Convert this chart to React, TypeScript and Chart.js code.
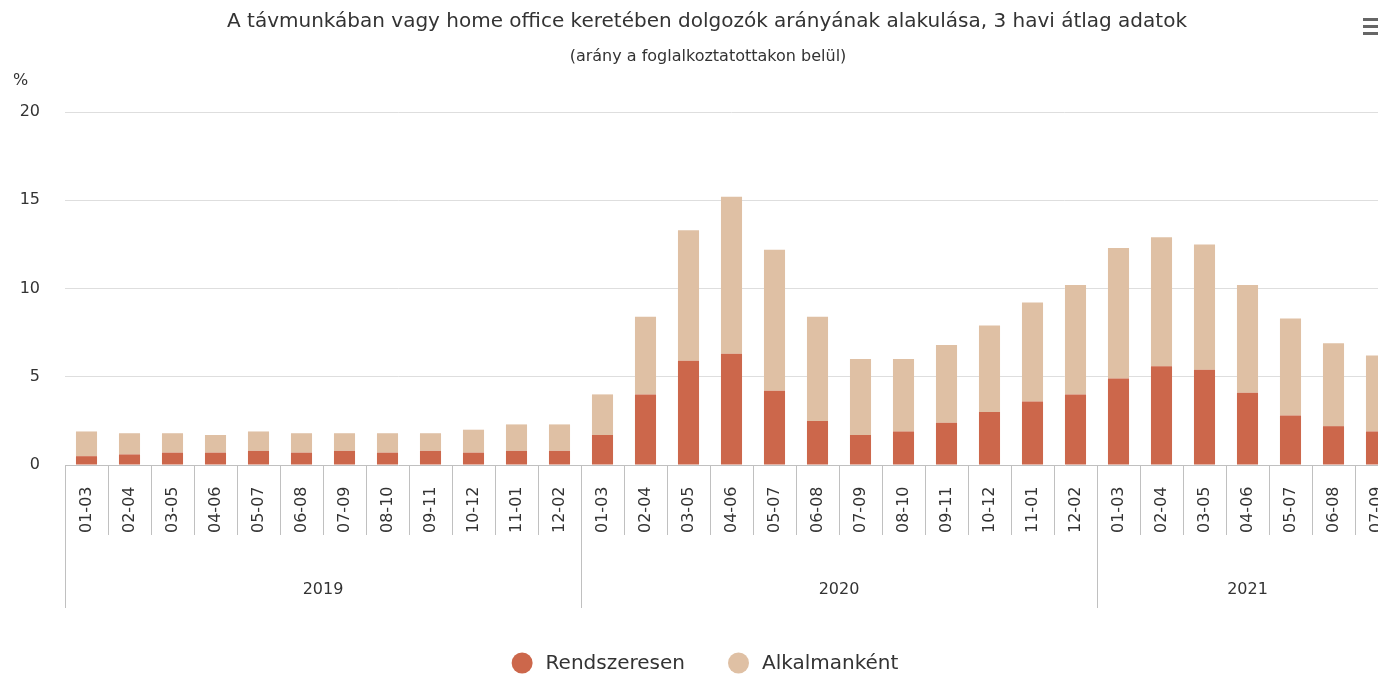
import React, { useEffect, useRef } from 'react';
import { Chart, registerables } from 'chart.js';

Chart.register(...registerables);

// ---- data ----
const periods = [
  '01-03', '02-04', '03-05', '04-06', '05-07', '06-08', '07-09', '08-10', '09-11', '10-12', '11-01', '12-02',
  '01-03', '02-04', '03-05', '04-06', '05-07', '06-08', '07-09', '08-10', '09-11', '10-12', '11-01', '12-02',
  '01-03', '02-04', '03-05', '04-06', '05-07', '06-08', '07-09',
];
const years = ['2019', '2020', '2021'];
const periodsPerYear = [12, 12, 7];

const regular = [
  0.5, 0.6, 0.7, 0.7, 0.8, 0.7, 0.8, 0.7, 0.8, 0.7, 0.8, 0.8,
  1.7, 4.0, 5.9, 6.3, 4.2, 2.5, 1.7, 1.9, 2.4, 3.0, 3.6, 4.0,
  4.9, 5.6, 5.4, 4.1, 2.8, 2.2, 1.9,
];
const occasional = [
  1.4, 1.2, 1.1, 1.0, 1.1, 1.1, 1.0, 1.1, 1.0, 1.3, 1.5, 1.5,
  2.3, 4.4, 7.4, 8.9, 8.0, 5.9, 4.3, 4.1, 4.4, 4.9, 5.6, 6.2,
  7.4, 7.3, 7.1, 6.1, 5.5, 4.7, 4.3,
];
const seriesNames = ['Rendszeresen', 'Alkalmanként'];
const seriesColors = ['#CC674B', '#DFC0A4'];

const yMin = 0;
const yMax = 20;
const yStep = 5;
const yUnit = '%';
const titleText = 'A távmunkában vagy home office keretében dolgozók arányának alakulása, 3 havi átlag adatok';
const subtitleText = '(arány a foglalkoztatottakon belül)';

const FONT = '"DejaVu Sans", "Liberation Sans", sans-serif';
const TEXT = '#333333';
const AXIS = '#c0c0c0';
const GRID = '#dedede';

const decorPlugin = {
  id: 'decor',
  afterDraw(chart: any) {
    const ctx = chart.ctx as CanvasRenderingContext2D;
    const xs = chart.scales.x;
    const area = chart.chartArea;
    const base = area.bottom;
    ctx.save();

    // title & subtitle
    ctx.fillStyle = TEXT;
    ctx.textAlign = 'center';
    ctx.textBaseline = 'alphabetic';
    ctx.font = `20px ${FONT}`;
    ctx.fillText(titleText, 707, 27);
    ctx.font = `16px ${FONT}`;
    ctx.fillText(subtitleText, 708, 61);

    // unit label
    ctx.textAlign = 'left';
    ctx.font = `16px ${FONT}`;
    ctx.fillText(yUnit, 13, 85);

    // menu icon
    ctx.fillStyle = '#666666';
    [18, 25, 32].forEach((y) => ctx.fillRect(1363, y, 20, 3));

    // category ticks and labels
    const n = periods.length;
    const step = xs.getPixelForValue(1) - xs.getPixelForValue(0);
    const groupEdges: number[] = [0];
    periodsPerYear.forEach((c) => groupEdges.push(groupEdges[groupEdges.length - 1] + c));

    ctx.strokeStyle = AXIS;
    ctx.lineWidth = 1;
    for (let k = 0; k <= n; k++) {
      const bx = Math.round(xs.getPixelForValue(0) - step / 2 + k * step) + 0.5;
      const long = groupEdges.includes(k);
      ctx.beginPath();
      ctx.moveTo(bx, base);
      ctx.lineTo(bx, base + (long ? 143 : 70));
      ctx.stroke();
    }

    ctx.fillStyle = TEXT;
    ctx.font = `16px ${FONT}`;
    ctx.textAlign = 'left';
    ctx.textBaseline = 'middle';
    for (let i = 0; i < n; i++) {
      const x = xs.getPixelForValue(i);
      ctx.save();
      ctx.translate(x, base + 68);
      ctx.rotate(-Math.PI / 2);
      ctx.fillText(periods[i], 0, 0);
      ctx.restore();
    }

    ctx.textAlign = 'center';
    years.forEach((yr, g) => {
      const a = xs.getPixelForValue(groupEdges[g]) - step / 2;
      const b = xs.getPixelForValue(groupEdges[g + 1] - 1) + step / 2;
      ctx.fillText(yr, (a + b) / 2, base + 125);
    });

    // legend
    ctx.font = `20px ${FONT}`;
    const r = 10.5;
    const textOff = 34;
    const gap = 43;
    const widths = seriesNames.map((s) => textOff + ctx.measureText(s).width);
    const total = widths.reduce((s, w) => s + w, 0) + gap * (widths.length - 1);
    let lx = chart.width / 2 - total / 2;
    const ly = 663;
    ctx.textAlign = 'left';
    ctx.textBaseline = 'middle';
    seriesNames.forEach((s, i) => {
      ctx.fillStyle = seriesColors[i];
      ctx.beginPath();
      ctx.arc(lx + r, ly, r, 0, Math.PI * 2);
      ctx.fill();
      ctx.fillStyle = TEXT;
      ctx.fillText(s, lx + textOff, ly + 1);
      lx += widths[i] + gap;
    });

    ctx.restore();
  },
};

export default function App() {
  const ref = useRef<HTMLCanvasElement | null>(null);

  useEffect(() => {
    if (!ref.current) return;
    const chart = new Chart(ref.current, {
      type: 'bar',
      data: {
        labels: periods,
        datasets: [
          {
            label: seriesNames[0],
            data: regular,
            backgroundColor: seriesColors[0],
            borderWidth: 0,
            barPercentage: 0.49,
            categoryPercentage: 1,
          },
          {
            label: seriesNames[1],
            data: occasional,
            backgroundColor: seriesColors[1],
            borderWidth: 0,
            barPercentage: 0.49,
            categoryPercentage: 1,
          },
        ],
      },
      options: {
        responsive: false,
        animation: false,
        layout: { padding: { top: 112, right: 12, left: 0, bottom: 0 } },
        plugins: {
          legend: { display: false },
          title: { display: false },
          tooltip: { enabled: false },
        },
        scales: {
          x: {
            stacked: true,
            ticks: { display: false },
            grid: { display: false },
            border: { display: true, color: AXIS, width: 1 },
            afterFit: (s: any) => {
              s.height = 209;
            },
          },
          y: {
            stacked: true,
            min: yMin,
            max: yMax,
            ticks: {
              stepSize: yStep,
              color: TEXT,
              padding: 25,
              font: { family: FONT, size: 16 },
            },
            grid: {
              drawTicks: false,
              color: (c: any) => (c.tick && c.tick.value === 0 ? 'rgba(0,0,0,0)' : GRID),
            },
            border: { display: false },
            afterFit: (s: any) => {
              s.width = 65;
            },
          },
        },
      },
      plugins: [decorPlugin],
    });
    return () => chart.destroy();
  }, []);

  return (
    <div
      style={{
        position: 'fixed',
        left: 0,
        top: 0,
        width: 1378,
        height: 674,
        overflow: 'hidden',
        background: '#ffffff',
      }}
    >
      <canvas ref={ref} width={1410} height={674} style={{ display: 'block', width: 1410, height: 674 }} />
    </div>
  );
}
